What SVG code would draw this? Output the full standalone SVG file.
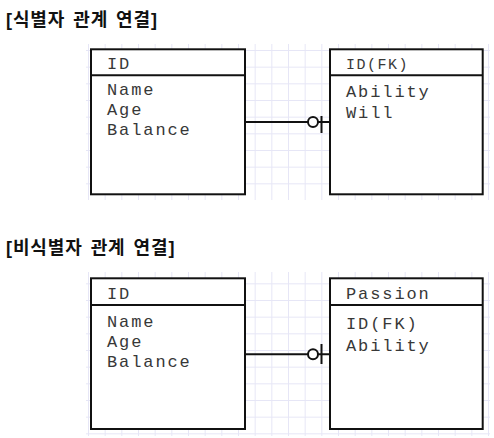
<svg xmlns="http://www.w3.org/2000/svg" width="494" height="438" viewBox="0 0 494 438">
<style>
.title{font-family:"Liberation Sans","Noto Sans CJK KR",sans-serif;font-weight:bold;font-size:18px;letter-spacing:0.9px;word-spacing:2px;fill:#111;}
.box{fill:#fff;stroke:#111;stroke-width:2;}
.div{stroke:#111;stroke-width:2;}
.t{font-family:"Liberation Mono","Courier New",monospace;font-size:17px;letter-spacing:1.9px;fill:#383838;}
.th{font-family:"Liberation Mono","Courier New",monospace;font-size:15px;letter-spacing:1.5px;fill:#383838;}
.conn{stroke:#111;stroke-width:2;fill:none;}
.circ{stroke:#111;stroke-width:2;fill:#fff;}
</style>
<defs>
<pattern id="grid" x="4.67" y="0" width="16.667" height="16.667" patternUnits="userSpaceOnUse">
<path d="M0 0.5H16.667M0.5 0V16.667" fill="none" stroke="#e6e6f6" stroke-width="1"/>
</pattern>
</defs>
<rect width="494" height="438" fill="#fff"/>
<rect x="86" y="44" width="404" height="156" fill="url(#grid)"/>
<rect x="86" y="272" width="404" height="164" fill="url(#grid)"/>
<text class="title" x="6" y="25.5">[식별자 관계 연결]</text>
<text class="title" x="6" y="254">[비식별자 관계 연결]</text>
<g id="connectors">
<line class="conn" x1="245" y1="122" x2="330" y2="122"/>
<circle class="circ" cx="313" cy="122" r="5"/>
<line class="conn" x1="321.5" y1="116" x2="321.5" y2="133"/>
<line class="conn" x1="245" y1="354.3" x2="330" y2="354.3"/>
<circle class="circ" cx="313" cy="354.3" r="5"/>
<line class="conn" x1="321.5" y1="344" x2="321.5" y2="364"/>
</g>
<g id="person1">
<rect class="box" x="91" y="49.3" width="154" height="145"/>
<line class="div" x1="91" y1="75.3" x2="245" y2="75.3"/>
<text class="t" x="107" y="69.3">ID</text>
<text class="t" x="107" y="95">Name</text>
<text class="t" x="107" y="114.7">Age</text>
<text class="t" x="107" y="134.7">Balance</text>
</g>
<g id="passion1">
<rect class="box" x="330" y="49.3" width="152.7" height="145"/>
<line class="div" x1="330" y1="75.3" x2="482.7" y2="75.3"/>
<text class="th" x="346" y="69.3">ID(FK)</text>
<text class="t" x="346" y="97">Ability</text>
<text class="t" x="346" y="118">Will</text>
</g>
<g id="person2">
<rect class="box" x="91" y="278.3" width="154" height="150.7"/>
<line class="div" x1="91" y1="305" x2="245" y2="305"/>
<text class="t" x="107" y="299">ID</text>
<text class="t" x="107" y="326.7">Name</text>
<text class="t" x="107" y="347">Age</text>
<text class="t" x="107" y="367">Balance</text>
</g>
<g id="passion2">
<rect class="box" x="330" y="278.3" width="152.7" height="150.7"/>
<line class="div" x1="330" y1="305" x2="482.7" y2="305"/>
<text class="t" x="346" y="299">Passion</text>
<text class="t" x="346" y="329.3">ID(FK)</text>
<text class="t" x="346" y="351">Ability</text>
</g>
</svg>
